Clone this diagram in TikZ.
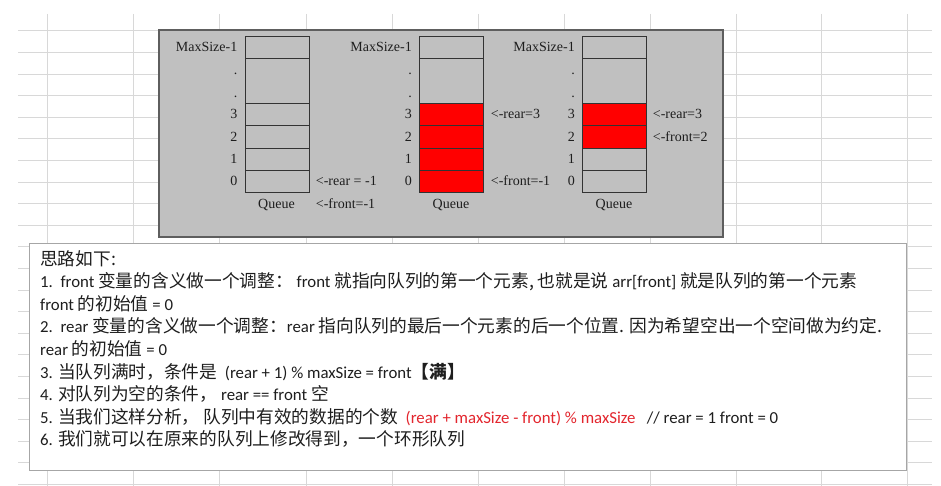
\documentclass[tikz,border=0pt]{standalone}
\usepackage{fontspec}
\setmainfont{Liberation Serif}
\newfontfamily\cjkfont{Noto Sans CJK SC}
\newfontfamily\latfont{Carlito}
\newcommand\zh[1]{{\cjkfont\fontsize{17.7}{20}\selectfont #1}}
\definecolor{gridc}{HTML}{D8D8D8}
\definecolor{panelc}{HTML}{C0C0C0}
\definecolor{panelb}{HTML}{5E5E5E}
\definecolor{cellb}{HTML}{333333}
\definecolor{redtxt}{HTML}{E3262E}
\definecolor{txt}{HTML}{1E1E1E}
\tikzset{
  panel/.style={draw=panelb, line width=1.8pt, fill=panelc, anchor=north west, inner sep=0, minimum width=564, minimum height=207},
  textbox/.style={draw=black!35, line width=0.8pt, fill=white, anchor=north west, inner sep=0, minimum width=877, minimum height=227},
  cell/.style={draw=cellb, line width=0.9pt, minimum width=64, minimum height=22.3, inner sep=0, anchor=north west},
  redcell/.style={cell, fill=red},
  lbl/.style={anchor=base east, inner sep=0, font=\fontsize{14}{16}\selectfont, text=txt},
  ptr/.style={anchor=base west, inner sep=0, font=\fontsize{14}{16}\selectfont, text=txt},
  qlbl/.style={anchor=base, inner sep=0, font=\fontsize{14}{16}\selectfont, text=txt},
  tline/.style={anchor=base west, inner sep=0, font=\latfont\fontsize{16.8}{19}\selectfont, text=txt},
}
\begin{document}
\begin{tikzpicture}[x=1pt,y=-1pt]
\useasboundingbox (0,0) rectangle (941,486);
\fill[white] (0,0) rectangle (941,486);
% spreadsheet grid
\foreach \k in {0,...,21} {
  \draw[gridc, line width=0.7pt] (18,30.7+21.6*\k) -- (932,30.7+21.6*\k);
}
\foreach \xx in {47,133,219,306,392,478,564,650,736,821,907} {
  \draw[gridc, line width=0.7pt] (\xx,14) -- (\xx,486);
}
% grey panel
\node[panel] (panel) at (158,29) {};
% queues
\foreach \q/\x/\fa/\fb/\fc/\fd in {a/244.5/cell/cell/cell/cell, b/419/redcell/redcell/redcell/redcell, c/582/redcell/redcell/cell/cell} {
  \node[cell] (\q top) at (\x,35.8) {};
  \node[cell, minimum height=45] (\q dots) at (\x,58.1) {};
  \node[\fa] (\q3) at (\x,103.1) {};
  \node[\fb] (\q2) at (\x,125.4) {};
  \node[\fc] (\q1) at (\x,147.7) {};
  \node[\fd] (\q0) at (\x,170.0) {};
  \node[lbl] (\q lmax) at (\x-7,51.7) {MaxSize-1};
  \node[lbl] (\q ld1) at (\x-7,74.5) {.};
  \node[lbl] (\q ld2) at (\x-7,97.5) {.};
  \node[lbl] (\q l3) at (\x-7,118.95) {3};
  \node[lbl] (\q l2) at (\x-7,141.25) {2};
  \node[lbl] (\q l1) at (\x-7,163.55) {1};
  \node[lbl] (\q l0) at (\x-7,185.85) {0};
  \node[qlbl] (\q name) at (\x+32,208.7) {Queue};
}
\node[ptr] (arear) at (315.7,185.85) {<-rear = -1};
\node[ptr] (afront) at (315.7,208.7) {<-front=-1};
\node[ptr] (brear) at (490.7,118.95) {<-rear=3};
\node[ptr] (bfront) at (490.7,185.85) {<-front=-1};
\node[ptr] (crear) at (652.7,118.95) {<-rear=3};
\node[ptr] (cfront) at (652.7,141.25) {<-front=2};
% text box
\node[textbox] (box) at (29,243) {};
\node[tline] (t1) at (40,265) {\zh{思路如下:}};
\node[tline] (t2) at (40,287.6) {1.\ \ front \zh{变量的含义做一个调整：} front \zh{就指向队列的第一个元素,} \zh{也就是说} arr[front] \zh{就是队列的第一个元素}};
\node[tline] (t3) at (40,310.2) {front \zh{的初始值} = 0};
\node[tline] (t4) at (40,332.8) {2.\ \ rear \zh{变量的含义做一个调整：}rear \zh{指向队列的最后一个元素的后一个位置.} \zh{因为希望空出一个空间做为约定.}};
\node[tline] (t5) at (40,355.4) {rear \zh{的初始值} = 0};
\node[tline] (t6) at (40,378) {3. \zh{当队列满时，条件是}\ \ (rear + 1) \% maxSize = front\zh{\bfseries【满】}};
\node[tline] (t7) at (40,400.6) {4. \zh{对队列为空的条件，} rear == front \zh{空}};
\node[tline] (t8) at (40,423.2) {5. \zh{当我们这样分析，} \zh{队列中有效的数据的个数}\ \ \textcolor{redtxt}{(rear + maxSize - front) \% maxSize}\ \ \ // rear = 1 front = 0};
\node[tline] (t9) at (40,445.8) {6. \zh{我们就可以在原来的队列上修改得到，一个环形队列}};
\end{tikzpicture}
\end{document}
